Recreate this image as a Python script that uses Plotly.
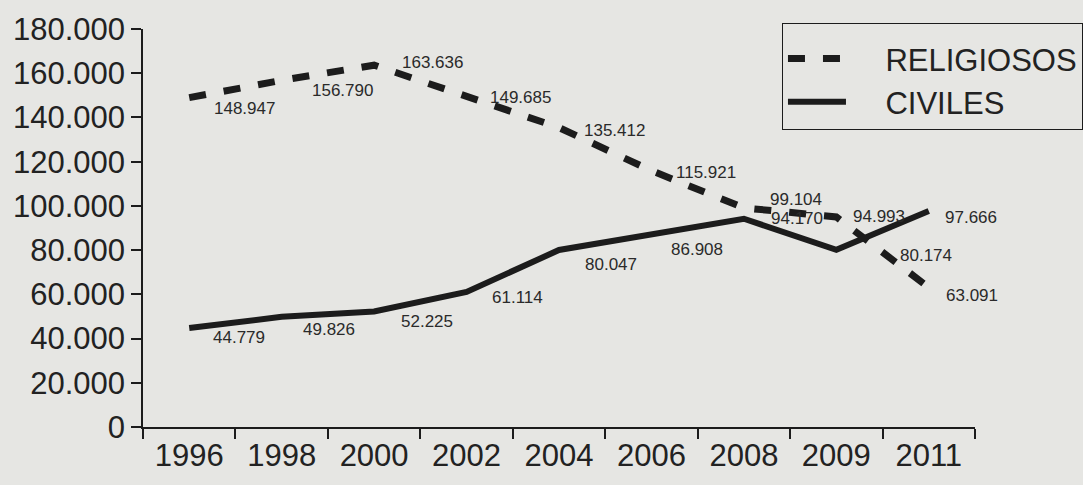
import plotly.graph_objects as go

years = ["1996", "1998", "2000", "2002", "2004", "2006", "2008", "2009", "2011"]
religiosos = [148947, 156790, 163636, 149685, 135412, 115921, 99104, 94993, 63091]
civiles = [44779, 49826, 52225, 61114, 80047, 86908, 94170, 80174, 97666]

# label offsets in pixels (style only)
rel_dx = [55, 61, 58, 54, 55, 55, 52, 43, 43]
rel_dy = [11, 10, -3, 1, 3, 2, -8, 0, 8]
civ_dx = [50, 47, 53, 51, 52, 46, 53, 90, 42]
civ_dy = [10, 13, 10, 6, 14, 15, 0, 6, 6]

BG = "#e6e6e3"
INK = "#1c1c1c"
FONT = "Liberation Sans, Arial, sans-serif"
PAD = "\u00a0" * 4


def fmt(v):
    return f"{v:,}".replace(",", ".")


fig = go.Figure()
fig.add_trace(go.Scatter(
    x=years, y=religiosos, mode="lines", name=PAD + "RELIGIOSOS",
    line=dict(color=INK, width=7, dash="17px,18px"),
))
fig.add_trace(go.Scatter(
    x=years, y=civiles, mode="lines", name=PAD + "CIVILES",
    line=dict(color=INK, width=6),
))

anns = []
for series, dxs, dys in ((religiosos, rel_dx, rel_dy), (civiles, civ_dx, civ_dy)):
    for i, (v, dx, dy) in enumerate(zip(series, dxs, dys)):
        anns.append(dict(
            x=i, y=v, xref="x", yref="y", text=fmt(v), showarrow=False,
            xanchor="center", yanchor="middle", xshift=dx, yshift=-dy,
            font=dict(family=FONT, size=17, color="#2a2a2a"),
        ))

yticks = list(range(0, 180001, 20000))
fig.update_layout(
    width=1083, height=485,
    margin=dict(l=143, r=108, t=29, b=58, autoexpand=False),
    paper_bgcolor=BG, plot_bgcolor=BG,
    font=dict(family=FONT, color="#222222"),
    annotations=anns,
    showlegend=True,
    legend=dict(
        x=0.768, y=1.015, xanchor="left", yanchor="top",
        bgcolor=BG, bordercolor=INK, borderwidth=1,
        font=dict(family=FONT, size=31, color="#222222"),
        itemwidth=58,
        title=dict(text=" ", font=dict(size=6)),
    ),
    xaxis=dict(
        type="category", range=[-0.5, 8.5], tickson="boundaries",
        ticks="outside", ticklen=10, tickwidth=1.5, tickcolor=INK,
        showline=True, linecolor=INK, linewidth=1.5,
        showgrid=False, zeroline=False,
        tickfont=dict(family=FONT, size=31, color="#222222"),
    ),
    yaxis=dict(
        range=[0, 180000], tickvals=yticks, ticktext=[fmt(t) for t in yticks],
        ticks="outside", ticklen=10, tickwidth=1.5, tickcolor=INK,
        showline=True, linecolor=INK, linewidth=1.5,
        showgrid=False, zeroline=False,
        tickfont=dict(family=FONT, size=31, color="#222222"),
    ),
)

fig.write_html("out.html")
